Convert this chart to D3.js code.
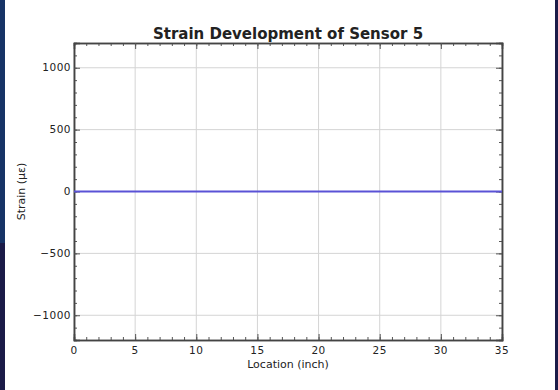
<!DOCTYPE html>
<html>
<head>
<meta charset="utf-8">
<script src="https://cdn.jsdelivr.net/npm/d3@7"></script>
<style>
  body { margin: 0; background: #fff; }
  svg { display: block; font-family: "DejaVu Sans", sans-serif; }
</style>
</head>
<body>
<div id="chart"></div>
<script>
// sensor readings along the beam
const locations = [0, 5, 10, 15, 20, 25, 30, 35];
const strain = [0, 0, 0, 0, 0, 0, 0, 0];
const xTicks = [0, 5, 10, 15, 20, 25, 30, 35];
const yTicks = [-1000, -500, 0, 500, 1000];

const W = 558, H = 390;
const margin = {top: 43, right: 56, bottom: 50, left: 74};
const width = W - margin.left - margin.right;
const height = H - margin.top - margin.bottom;

const svg = d3.select('#chart').append('svg')
  .attr('width', W)
  .attr('height', H);

// slide frame edges
svg.append('rect').attr('x', 0).attr('y', 0).attr('width', 5).attr('height', 243).attr('fill', '#163366');
svg.append('rect').attr('x', 0).attr('y', 243).attr('width', 5).attr('height', H - 243).attr('fill', '#1b1b48');
svg.append('rect').attr('x', 555).attr('y', 0).attr('width', 3).attr('height', H).attr('fill', '#1b1b48');

const x = d3.scaleLinear().domain([0, 35]).range([0, width]);
const y = d3.scaleLinear().domain([-1200, 1200]).range([height, 0]);

const main = svg.append('g')
  .attr('transform', `translate(${margin.left},${margin.top})`);

// grid
main.append('g').selectAll('line.gx')
  .data(xTicks)
  .enter().append('line')
  .attr('x1', d => x(d)).attr('x2', d => x(d))
  .attr('y1', 0).attr('y2', height)
  .attr('stroke', '#d4d4d4').attr('stroke-width', 1);

main.append('g').selectAll('line.gy')
  .data(yTicks)
  .enter().append('line')
  .attr('y1', d => y(d)).attr('y2', d => y(d))
  .attr('x1', 0).attr('x2', width)
  .attr('stroke', '#d4d4d4').attr('stroke-width', 1);

// inward ticks on every side, major + minor
const xMinor = d3.range(0, 36, 1);
const yMinor = d3.range(-1200, 1201, 100);

function tickAxis(axisFn, scale, vals, size) {
  return axisFn(scale).tickValues(vals).tickSize(size).tickFormat('');
}

main.append('g').attr('transform', `translate(0,${height})`).call(tickAxis(d3.axisTop, x, xMinor, 3));
main.append('g').attr('transform', `translate(0,${height})`).call(tickAxis(d3.axisTop, x, xTicks, 6));
main.append('g').call(tickAxis(d3.axisBottom, x, xMinor, 3));
main.append('g').call(tickAxis(d3.axisBottom, x, xTicks, 6));
main.append('g').call(tickAxis(d3.axisRight, y, yMinor, 3));
main.append('g').call(tickAxis(d3.axisRight, y, yTicks, 6));
main.append('g').attr('transform', `translate(${width},0)`).call(tickAxis(d3.axisLeft, y, yMinor, 3));
main.append('g').attr('transform', `translate(${width},0)`).call(tickAxis(d3.axisLeft, y, yTicks, 6));

main.selectAll('.domain').attr('stroke', '#444').attr('stroke-width', 1.5);
main.selectAll('.tick line').attr('stroke', '#555');

// tick labels
main.append('g').selectAll('text')
  .data(xTicks)
  .enter().append('text')
  .attr('x', d => x(d))
  .attr('y', height + 14)
  .attr('text-anchor', 'middle')
  .attr('font-size', 10.5)
  .attr('letter-spacing', 0.5)
  .attr('fill', '#222')
  .text(d => d);

main.append('g').selectAll('text')
  .data(yTicks)
  .enter().append('text')
  .attr('x', -3)
  .attr('y', d => y(d))
  .attr('dy', '0.35em')
  .attr('text-anchor', 'end')
  .attr('font-size', 10.5)
  .attr('letter-spacing', 0.5)
  .attr('fill', '#222')
  .text(d => d < 0 ? '\u2212' + Math.abs(d) : d);

// series
const line = d3.line()
  .x((d, i) => x(locations[i]))
  .y(d => y(d));

main.append('path')
  .datum(strain)
  .attr('d', line)
  .attr('fill', 'none')
  .attr('stroke', '#5a52d6')
  .attr('stroke-width', 2.2);

// titles
svg.append('text')
  .attr('x', margin.left + width / 2)
  .attr('y', 39)
  .attr('text-anchor', 'middle')
  .attr('font-size', 15)
  .attr('font-weight', 'bold')
  .attr('fill', '#222')
  .text('Strain Development of Sensor 5');

svg.append('text')
  .attr('x', margin.left + width / 2)
  .attr('y', 368)
  .attr('text-anchor', 'middle')
  .attr('font-size', 11)
  .attr('fill', '#222')
  .text('Location (inch)');

svg.append('text')
  .attr('transform', `translate(25,${margin.top + y(0)}) rotate(-90)`)
  .attr('text-anchor', 'middle')
  .attr('font-size', 11)
  .attr('fill', '#222')
  .text('Strain (\u03bc\u03b5)');
</script>
</body>
</html>
